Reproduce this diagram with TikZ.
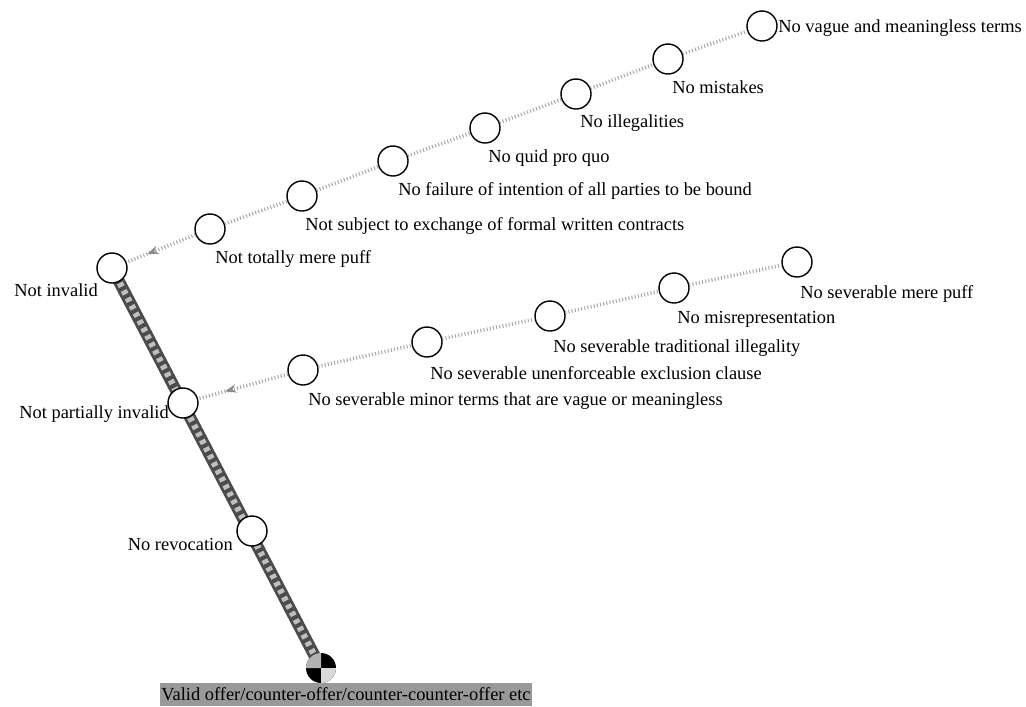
\documentclass[tikz,border=0pt]{standalone}
\usepackage{fontspec}
\setmainfont{Liberation Serif}
\usetikzlibrary{arrows.meta,decorations.markings,backgrounds}

\tikzset{
    dot/.style={circle, draw=black, line width=1pt, fill=white, minimum size=0.75cm, inner sep=0pt},
    lbl/.style={font=\fontsize{13.1}{15}\selectfont, inner sep=0pt},
    valbox/.style={lbl, fill=black!40, minimum width=9.3cm, minimum height=0.575cm},
    twig/.style={draw=black!35, line width=2.6pt, dash pattern=on 0.7pt off 1.6pt},
    twigarrow/.style={postaction={decorate}, decoration={markings, mark=at position 0.7 with {\arrow[black!45]{Stealth[length=8pt,width=6pt]}}}},
    trunk/.style={draw=black!70, line width=8.5pt},
    trunkcheck/.style={draw=black!25, line width=4.5pt, dash pattern=on 3pt off 3pt},
}

\begin{document}
\begin{tikzpicture}[x=0.025cm, y=-0.025cm]
    \useasboundingbox (0,0) rectangle (1026,706);

    % main line
    \node[dot] (invalid) at (112,268) {};
    \node[dot] (partial) at (183,403) {};
    \node[dot] (revoc) at (252,531) {};
    \node[dot, draw=none, fill=none] (valid) at (321,668) {};

    % upper branch
    \node[dot] (puff) at (210,229) {};
    \node[dot] (subject) at (302,196) {};
    \node[dot] (failure) at (393,161) {};
    \node[dot] (quid) at (485,128) {};
    \node[dot] (illegal) at (576,94) {};
    \node[dot] (mistake) at (668,59) {};
    \node[dot] (vague) at (762,26) {};

    % lower branch
    \node[dot] (minor) at (303,370) {};
    \node[dot] (exclusion) at (427,342) {};
    \node[dot] (tradition) at (550,316) {};
    \node[dot] (misrep) at (674,288) {};
    \node[dot] (sevpuff) at (797,262) {};

    \begin{scope}[on background layer]
        \draw[trunk] (invalid.center) -- (valid.center);
        \draw[trunkcheck] (invalid.center) -- (valid.center);
    \end{scope}

    \draw[twig, twigarrow] (puff) -- (invalid);
    \draw[twig] (puff) -- (subject);
    \draw[twig] (subject) -- (failure);
    \draw[twig] (failure) -- (quid);
    \draw[twig] (quid) -- (illegal);
    \draw[twig] (illegal) -- (mistake);
    \draw[twig] (mistake) -- (vague);

    \draw[twig, twigarrow] (minor) -- (partial);
    \draw[twig] (minor) -- (exclusion);
    \draw[twig] (exclusion) -- (tradition);
    \draw[twig] (tradition) -- (misrep);
    \draw[twig] (misrep) -- (sevpuff);

    % start ball
    \fill[black] (valid) circle (15);
    \fill[black!30] (valid.center) -- ++(180:15) arc (180:270:15) -- cycle;
    \fill[black!15] (valid.center) -- ++(0:15) arc (0:90:15) -- cycle;

    % labels
    \node[lbl, anchor=base east] (invalidt) at (98,296) {Not invalid};
    \node[lbl, anchor=base east] (partialt) at (169,418) {Not partially invalid};
    \node[lbl, anchor=base east] (revoct) at (233,550) {No revocation};
    \node[valbox] (validt) at (346,694.5) {Valid offer/counter-offer/counter-counter-offer etc};

    \node[lbl, anchor=base west] (pufft) at (215,263) {Not totally mere puff};
    \node[lbl, anchor=base west] (subjectt) at (305,230) {Not subject to exchange of formal written contracts};
    \node[lbl, anchor=base west] (failuret) at (398,195) {No failure of intention of all parties to be bound};
    \node[lbl, anchor=base west] (quidt) at (488,162) {No quid pro quo};
    \node[lbl, anchor=base west] (illegalt) at (580,127) {No illegalities};
    \node[lbl, anchor=base west] (mistaket) at (672,93) {No mistakes};
    \node[lbl, anchor=base west] (vaguet) at (778,32) {No vague and meaningless terms};

    \node[lbl, anchor=base west] (minort) at (308,405) {No severable minor terms that are vague or meaningless};
    \node[lbl, anchor=base west] (exclusiont) at (430,379) {No severable unenforceable exclusion clause};
    \node[lbl, anchor=base west] (traditiont) at (553,352) {No severable traditional illegality};
    \node[lbl, anchor=base west] (misrept) at (677,323) {No misrepresentation};
    \node[lbl, anchor=base west] (sevpufft) at (800,298) {No severable mere puff};
\end{tikzpicture}
\end{document}
